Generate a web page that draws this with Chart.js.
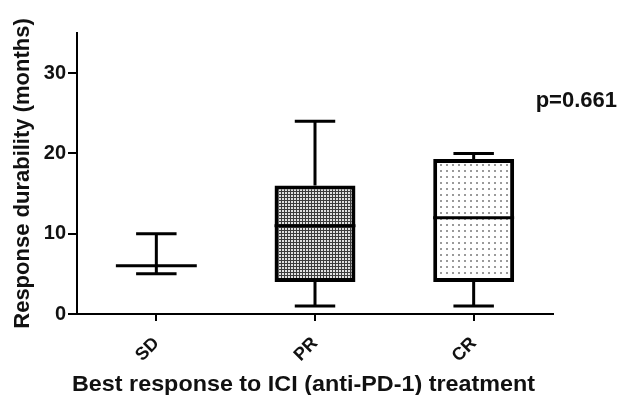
<!DOCTYPE html>
<html>
<head>
<meta charset="utf-8">
<script src="https://cdn.jsdelivr.net/npm/chart.js@4"></script>
<style>
  html, body { margin: 0; padding: 0; background: #fff; }
  #wrap { width: 622px; height: 395px; }
</style>
</head>
<body>
<div id="wrap"><canvas id="grafico" width="622" height="395"></canvas></div>
<script>
// dados (meses)
const categorias = ['SD', 'PR', 'CR'];
const minimos   = [5, 1, 1];
const quartil1  = [6, 4, 4];
const medianas  = [6, 11, 12];
const quartil3  = [6, 16, 19.3];
const maximos   = [10, 24, 20];
const yTicks    = [0, 10, 20, 30];
const pValor    = 'p=0.661';
const tituloX   = 'Best response to ICI (anti-PD-1) treatment';

const FONTE = '"Liberation Sans", Arial, Helvetica, sans-serif';

// padrões de preenchimento das caixas
function padraoEscuro() {
    const c = document.createElement('canvas');
    c.width = 3; c.height = 3;
    const g = c.getContext('2d');
    g.fillStyle = '#3c3c3c';
    g.fillRect(0, 0, 3, 3);
    g.fillStyle = '#e0e0e0';
    g.fillRect(0, 0, 2, 2);
    return g.createPattern(c, 'repeat');
}
function padraoClaro() {
    const c = document.createElement('canvas');
    c.width = 6; c.height = 6;
    const g = c.getContext('2d');
    g.fillStyle = '#ffffff';
    g.fillRect(0, 0, 6, 6);
    g.fillStyle = '#9a9a9a';
    g.fillRect(2, 2, 2, 2);
    return g.createPattern(c, 'repeat');
}

// desenha bigodes, medianas, p-valor e título do eixo x
const boxPlugin = {
    id: 'boxWhiskers',
    afterDatasetsDraw(chart) {
        const ctx = chart.ctx;
        const y = chart.scales.y;
        const meta = chart.getDatasetMeta(0);
        ctx.save();
        ctx.strokeStyle = '#000';
        ctx.lineWidth = 3;
        ctx.lineCap = 'butt';
        meta.data.forEach((bar, i) => {
            const x = bar.x;
            const meia = bar.width / 2;
            const cap = meia / 2;
            const yMin = y.getPixelForValue(minimos[i]);
            const yMax = y.getPixelForValue(maximos[i]);
            const yQ1 = y.getPixelForValue(quartil1[i]);
            const yQ3 = y.getPixelForValue(quartil3[i]);
            const yMed = y.getPixelForValue(medianas[i]);
            ctx.beginPath();
            ctx.moveTo(x, yQ3); ctx.lineTo(x, yMax);
            ctx.moveTo(x, yQ1); ctx.lineTo(x, yMin);
            ctx.moveTo(x - cap, yMax); ctx.lineTo(x + cap, yMax);
            ctx.moveTo(x - cap, yMin); ctx.lineTo(x + cap, yMin);
            ctx.moveTo(x - meia, yMed); ctx.lineTo(x + meia, yMed);
            ctx.stroke();
        });
        ctx.fillStyle = '#111';
        ctx.font = 'bold 22px ' + FONTE;
        ctx.textAlign = 'right';
        ctx.textBaseline = 'middle';
        ctx.fillText(pValor, 617, 101);

        // título do eixo x, levemente esticado como no original
        ctx.textAlign = 'center';
        ctx.textBaseline = 'alphabetic';
        const larg = ctx.measureText(tituloX).width;
        const esc = 463 / larg;
        ctx.translate(303.5, 391);
        ctx.scale(esc, 1);
        ctx.fillText(tituloX, 0, 0);
        ctx.restore();
    }
};

const ctx = document.getElementById('grafico').getContext('2d');
new Chart(ctx, {
    type: 'bar',
    data: {
        labels: categorias,
        datasets: [{
            data: categorias.map((_, i) => [quartil1[i], quartil3[i]]),
            backgroundColor: [padraoEscuro(), padraoEscuro(), padraoClaro()],
            borderColor: '#000',
            borderWidth: [0, 4, 4],
            borderSkipped: false,
            barPercentage: 0.51,
            categoryPercentage: 1
        }]
    },
    options: {
        responsive: false,
        animation: false,
        layout: { padding: { top: 33, right: 69, left: 0, bottom: 0 } },
        plugins: {
            legend: { display: false },
            tooltip: { enabled: false }
        },
        scales: {
            x: {
                offset: true,
                grid: { display: true, drawOnChartArea: false, drawTicks: true, tickLength: 7, color: '#000', lineWidth: 2, offset: false },
                border: { color: '#000', width: 2 },
                ticks: { color: '#111', font: { family: FONTE, size: 18, weight: 'bold' }, minRotation: 45, maxRotation: 45, padding: 12 },
                title: { display: false },
                afterFit(scale) { scale.height = 81; }
            },
            y: {
                min: 0,
                max: 35,
                afterBuildTicks(scale) { scale.ticks = yTicks.map(v => ({ value: v })); },
                grid: { display: true, drawOnChartArea: false, drawTicks: true, tickLength: 9, color: '#000', lineWidth: 2 },
                border: { color: '#000', width: 2 },
                ticks: { color: '#111', font: { family: FONTE, size: 20, weight: 'bold' }, padding: 2 },
                title: { display: true, text: 'Response durability (months)', color: '#111', font: { family: FONTE, size: 22, weight: 'bold' }, padding: { top: 10, bottom: 0 } },
                afterFit(scale) { scale.width = 77; }
            }
        }
    },
    plugins: [boxPlugin]
});
</script>
</body>
</html>
